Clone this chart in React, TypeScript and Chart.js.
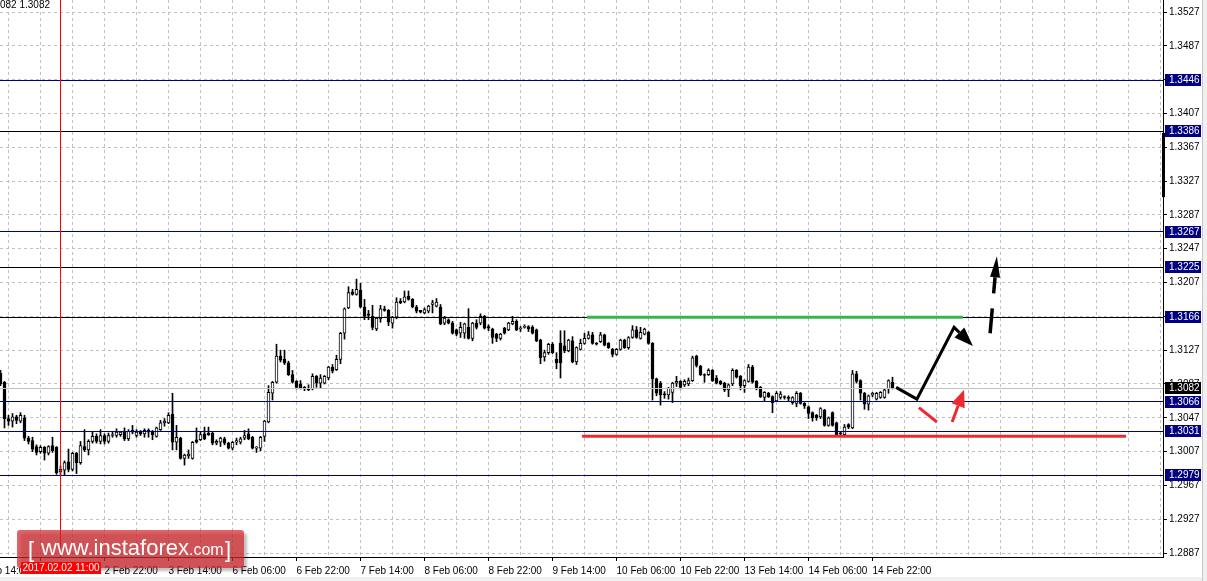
import React, { useEffect, useRef } from "react";
import { Chart, registerables } from "chart.js";

Chart.register(...registerables);

const FONT = "'Liberation Sans', Arial, sans-serif";

// ---------- hourly candles (GBP/USD H1), index 0 = 1 Feb 20:00 ----------
const opens = [
  1.3100,1.3089,1.3046,1.3043,1.3048,1.3043,1.3047,1.3023,1.3020,1.3013,
  1.3007,1.3012,1.3005,1.3014,1.3012,1.2983,1.2985,1.2995,1.2986,1.3005,
  1.2994,1.3013,1.3009,1.3019,1.3025,1.3019,1.3026,1.3019,1.3026,1.3026,
  1.3027,1.3030,1.3022,1.3032,1.3026,1.3030,1.3028,1.3032,1.3031,1.3025,
  1.3033,1.3041,1.3041,1.3051,1.3018,1.3023,1.2999,1.3002,1.2999,1.3021,
  1.3021,1.3028,1.3029,1.3029,1.3017,1.3018,1.3022,1.3017,1.3011,1.3018,
  1.3018,1.3023,1.3028,1.3024,1.3011,1.3011,1.3025,1.3042,1.3076,1.3089,
  1.3120,1.3116,1.3112,1.3098,1.3090,1.3087,1.3083,1.3082,1.3081,1.3096,
  1.3088,1.3088,1.3094,1.3107,1.3104,1.3116,1.3147,1.3177,1.3196,1.3193,
  1.3198,1.3178,1.3170,1.3167,1.3152,1.3164,1.3176,1.3174,1.3159,1.3166,
  1.3185,1.3184,1.3191,1.3187,1.3178,1.3174,1.3171,1.3173,1.3181,1.3179,
  1.3178,1.3159,1.3163,1.3159,1.3151,1.3147,1.3147,1.3154,1.3141,1.3159,
  1.3159,1.3167,1.3155,1.3152,1.3146,1.3141,1.3153,1.3151,1.3158,1.3161,
  1.3152,1.3154,1.3155,1.3154,1.3151,1.3139,1.3119,1.3124,1.3134,1.3116,
  1.3135,1.3132,1.3126,1.3138,1.3113,1.3128,1.3135,1.3141,1.3145,1.3135,
  1.3137,1.3145,1.3135,1.3128,1.3122,1.3128,1.3139,1.3130,1.3142,1.3151,
  1.3141,1.3146,1.3148,1.3135,1.3093,1.3088,1.3075,1.3074,1.3077,1.3088,
  1.3090,1.3086,1.3087,1.3091,1.3120,1.3108,1.3098,1.3098,1.3103,1.3094,
  1.3090,1.3088,1.3080,1.3087,1.3103,1.3096,1.3085,1.3090,1.3107,1.3090,
  1.3083,1.3071,1.3076,1.3072,1.3067,1.3071,1.3072,1.3071,1.3065,1.3064,
  1.3076,1.3064,1.3060,1.3053,1.3050,1.3048,1.3056,1.3038,1.3053,1.3041,
  1.3029,1.3027,1.3039,1.3035,1.3099,1.3091,1.3076,1.3063,1.3074,1.3069,
  1.3071,1.3071,1.3081,1.3089,
];
const highs = [
  1.3103,1.3090,1.3050,1.3052,1.3050,1.3053,1.3050,1.3025,1.3024,1.3015,
  1.3014,1.3013,1.3014,1.3024,1.3013,1.2990,1.2996,1.3010,1.3006,1.3006,
  1.3019,1.3033,1.3021,1.3030,1.3028,1.3033,1.3028,1.3029,1.3030,1.3034,
  1.3031,1.3035,1.3033,1.3038,1.3033,1.3032,1.3034,1.3034,1.3032,1.3036,
  1.3044,1.3046,1.3053,1.3076,1.3038,1.3024,1.3004,1.3009,1.3019,1.3035,
  1.3030,1.3036,1.3036,1.3030,1.3021,1.3024,1.3024,1.3018,1.3019,1.3023,
  1.3024,1.3032,1.3034,1.3025,1.3013,1.3025,1.3044,1.3085,1.3090,1.3134,
  1.3127,1.3127,1.3114,1.3103,1.3091,1.3091,1.3084,1.3086,1.3099,1.3097,
  1.3098,1.3097,1.3108,1.3110,1.3121,1.3148,1.3177,1.3202,1.3199,1.3211,
  1.3206,1.3187,1.3174,1.3180,1.3166,1.3180,1.3179,1.3175,1.3167,1.3189,
  1.3188,1.3197,1.3197,1.3188,1.3180,1.3174,1.3177,1.3180,1.3186,1.3188,
  1.3181,1.3167,1.3164,1.3161,1.3152,1.3160,1.3159,1.3176,1.3160,1.3163,
  1.3170,1.3168,1.3157,1.3153,1.3147,1.3147,1.3154,1.3160,1.3167,1.3163,
  1.3155,1.3157,1.3156,1.3156,1.3152,1.3140,1.3127,1.3135,1.3136,1.3124,
  1.3150,1.3150,1.3140,1.3143,1.3131,1.3140,1.3147,1.3149,1.3148,1.3136,
  1.3148,1.3146,1.3136,1.3129,1.3129,1.3140,1.3140,1.3143,1.3156,1.3155,
  1.3154,1.3153,1.3149,1.3136,1.3094,1.3090,1.3078,1.3083,1.3089,1.3096,
  1.3091,1.3092,1.3094,1.3120,1.3121,1.3109,1.3099,1.3105,1.3104,1.3097,
  1.3091,1.3089,1.3087,1.3105,1.3104,1.3097,1.3092,1.3110,1.3109,1.3091,
  1.3084,1.3078,1.3077,1.3073,1.3078,1.3078,1.3073,1.3073,1.3072,1.3078,
  1.3077,1.3065,1.3061,1.3054,1.3051,1.3059,1.3057,1.3048,1.3054,1.3042,
  1.3031,1.3039,1.3040,1.3103,1.3102,1.3092,1.3077,1.3074,1.3077,1.3077,
  1.3078,1.3081,1.3092,1.3095,
];
const lows = [
  1.3085,1.3035,1.3038,1.3036,1.3040,1.3041,1.3020,1.3016,1.3007,1.3003,
  1.3005,1.2997,1.3003,1.3006,1.2980,1.2979,1.2979,1.2983,1.2984,1.2981,
  1.2992,1.3007,1.3003,1.3017,1.3017,1.3016,1.3016,1.3017,1.3024,1.3024,
  1.3025,1.3020,1.3020,1.3028,1.3024,1.3026,1.3024,1.3024,1.3021,1.3024,
  1.3032,1.3037,1.3040,1.3009,1.3009,1.2998,1.2991,1.2999,1.2998,1.3017,
  1.3020,1.3021,1.3026,1.3015,1.3015,1.3013,1.3015,1.3010,1.3009,1.3015,
  1.3016,1.3021,1.3021,1.3010,1.3006,1.3008,1.3019,1.3041,1.3068,1.3088,
  1.3113,1.3110,1.3097,1.3088,1.3081,1.3081,1.3079,1.3079,1.3080,1.3083,
  1.3082,1.3087,1.3092,1.3100,1.3103,1.3111,1.3140,1.3176,1.3192,1.3192,
  1.3177,1.3163,1.3163,1.3151,1.3150,1.3160,1.3173,1.3156,1.3153,1.3164,
  1.3182,1.3183,1.3186,1.3177,1.3171,1.3171,1.3170,1.3171,1.3171,1.3178,
  1.3157,1.3157,1.3158,1.3146,1.3144,1.3142,1.3141,1.3140,1.3138,1.3152,
  1.3157,1.3152,1.3150,1.3135,1.3137,1.3139,1.3146,1.3150,1.3157,1.3150,
  1.3149,1.3153,1.3149,1.3146,1.3137,1.3111,1.3114,1.3122,1.3123,1.3105,
  1.3094,1.3124,1.3125,1.3112,1.3110,1.3127,1.3134,1.3140,1.3134,1.3133,
  1.3136,1.3132,1.3129,1.3119,1.3121,1.3127,1.3129,1.3128,1.3141,1.3141,
  1.3140,1.3145,1.3134,1.3068,1.3073,1.3062,1.3070,1.3069,1.3065,1.3084,
  1.3081,1.3084,1.3085,1.3090,1.3107,1.3097,1.3089,1.3097,1.3090,1.3087,
  1.3086,1.3078,1.3072,1.3085,1.3094,1.3080,1.3077,1.3089,1.3088,1.3080,
  1.3071,1.3067,1.3071,1.3053,1.3066,1.3069,1.3069,1.3066,1.3063,1.3060,
  1.3063,1.3058,1.3046,1.3043,1.3044,1.3046,1.3037,1.3037,1.3037,1.3026,
  1.3026,1.3026,1.3034,1.3034,1.3088,1.3068,1.3057,1.3056,1.3072,1.3068,
  1.3070,1.3070,1.3076,1.3081,
];
const closes = [
  1.3087,1.3046,1.3043,1.3048,1.3044,1.3050,1.3023,1.3019,1.3010,1.3006,
  1.3012,1.3005,1.3013,1.3008,1.2982,1.2986,1.2994,1.2986,1.3005,1.2994,
  1.3014,1.3009,1.3019,1.3025,1.3019,1.3026,1.3019,1.3026,1.3027,1.3030,
  1.3030,1.3022,1.3031,1.3030,1.3030,1.3028,1.3032,1.3030,1.3027,1.3035,
  1.3041,1.3043,1.3050,1.3018,1.3024,1.2999,1.3003,1.3004,1.3018,1.3018,
  1.3027,1.3022,1.3027,1.3017,1.3019,1.3023,1.3017,1.3011,1.3018,1.3020,
  1.3022,1.3026,1.3022,1.3011,1.3012,1.3024,1.3043,1.3077,1.3089,1.3120,
  1.3115,1.3112,1.3098,1.3089,1.3083,1.3082,1.3081,1.3080,1.3096,1.3088,
  1.3094,1.3096,1.3107,1.3102,1.3116,1.3147,1.3176,1.3195,1.3193,1.3199,
  1.3178,1.3167,1.3168,1.3154,1.3165,1.3176,1.3174,1.3160,1.3166,1.3184,
  1.3183,1.3190,1.3187,1.3178,1.3173,1.3172,1.3175,1.3179,1.3183,1.3184,
  1.3158,1.3165,1.3159,1.3147,1.3146,1.3154,1.3158,1.3141,1.3159,1.3154,
  1.3167,1.3153,1.3153,1.3142,1.3141,1.3146,1.3147,1.3159,1.3161,1.3151,
  1.3153,1.3155,1.3152,1.3147,1.3138,1.3118,1.3124,1.3134,1.3124,1.3112,
  1.3112,1.3126,1.3139,1.3113,1.3130,1.3135,1.3141,1.3145,1.3135,1.3134,
  1.3145,1.3133,1.3130,1.3122,1.3128,1.3139,1.3130,1.3142,1.3151,1.3142,
  1.3148,1.3152,1.3135,1.3093,1.3076,1.3074,1.3074,1.3082,1.3088,1.3090,
  1.3083,1.3090,1.3091,1.3118,1.3109,1.3098,1.3097,1.3103,1.3091,1.3088,
  1.3087,1.3080,1.3086,1.3103,1.3095,1.3085,1.3091,1.3107,1.3089,1.3082,
  1.3072,1.3077,1.3072,1.3065,1.3076,1.3075,1.3071,1.3070,1.3071,1.3076,
  1.3064,1.3061,1.3052,1.3047,1.3047,1.3058,1.3038,1.3047,1.3038,1.3027,
  1.3028,1.3036,1.3036,1.3099,1.3090,1.3076,1.3063,1.3073,1.3076,1.3076,
  1.3077,1.3080,1.3091,1.3082,
];

// ---------- axes ----------
const xTickLabels = [
  "1 Feb 14:00", "2 Feb 06:00", "2 Feb 22:00", "3 Feb 14:00", "6 Feb 06:00",
  "6 Feb 22:00", "7 Feb 14:00", "8 Feb 06:00", "8 Feb 22:00", "9 Feb 14:00",
  "10 Feb 06:00", "10 Feb 22:00", "13 Feb 14:00", "14 Feb 06:00", "14 Feb 22:00",
];
const firstLabelIndex = -6; // candle slot of "1 Feb 14:00"
const labelEvery = 16;
const gridEvery = 8;
const yTickValues = [
  1.2887, 1.2927, 1.2967, 1.3007, 1.3047, 1.3087, 1.3127, 1.3167, 1.3207,
  1.3247, 1.3287, 1.3327, 1.3367, 1.3407, 1.3447, 1.3487, 1.3527,
];

// ---------- levels & drawings (candle index, price) ----------
const navyLevels = [1.3446, 1.3267, 1.3066, 1.3031, 1.2979];
const blackLevels = [1.3386, 1.3225, 1.3166];
const bidPrice = 1.3082;
const rangeBar = [1.3308, 1.3384];
const markerIndex = 15;
const markerLabel = "2017.02.02 11:00";
const headerText = "082 1.3082";
const resistance = [146.6, 240.6, 1.3166];
const support = [145.4, 281.4, 1.3025];
const trendPath = [[223.9, 1.3083], [229.1, 1.3069], [238.4, 1.3154], [243.1, 1.3132]];
const breakoutArrow = [[247.4, 1.3147], [249.1, 1.3238]];
const redDash = [[229.6, 1.3059], [234.1, 1.3042]];
const redArrow = [[237.9, 1.3042], [240.9, 1.3080]];

const X_MIN = -0.125;
const X_MAX = 290.625;
const Y_MIN = 1.28823;
const Y_MAX = 1.35412;

function labelAt(v: number): string {
  const k = (v - firstLabelIndex) / labelEvery;
  if (Number.isInteger(k) && k >= 0 && k < xTickLabels.length) return xTickLabels[k];
  return "";
}

function hline(ctx: CanvasRenderingContext2D, a: any, y: number, color: string) {
  const yy = Math.floor(y) + 0.5;
  ctx.strokeStyle = color;
  ctx.lineWidth = 1;
  ctx.setLineDash([]);
  ctx.beginPath();
  ctx.moveTo(a.left, yy);
  ctx.lineTo(a.right, yy);
  ctx.stroke();
}

function head(ctx: CanvasRenderingContext2D, x1: number, y1: number, x2: number, y2: number, len: number, half: number) {
  const ang = Math.atan2(y2 - y1, x2 - x1);
  const bx = x2 - len * Math.cos(ang);
  const by = y2 - len * Math.sin(ang);
  const nx = -Math.sin(ang);
  const ny = Math.cos(ang);
  ctx.beginPath();
  ctx.moveTo(x2, y2);
  ctx.lineTo(bx + nx * half, by + ny * half);
  ctx.lineTo(bx - nx * half, by - ny * half);
  ctx.closePath();
  ctx.fill();
  return [bx, by];
}

const overlayPlugin = {
  id: "overlay",
  afterDatasetsDraw(chart: any) {
    const { ctx, chartArea: a, scales } = chart;
    const px = (i: number) => scales.x.getPixelForValue(i);
    const py = (p: number) => scales.y.getPixelForValue(p);
    ctx.save();
    ctx.beginPath();
    ctx.rect(a.left, a.top, a.right - a.left, a.bottom - a.top);
    ctx.clip();

    hline(ctx, a, py(bidPrice), "#c0c0c0");
    navyLevels.forEach((p) => hline(ctx, a, py(p), "#000080"));
    blackLevels.forEach((p) => hline(ctx, a, py(p), "#000000"));

    // vertical marker
    const mx = Math.round(px(markerIndex) - 0.5) + 0.5;
    ctx.strokeStyle = "#ff0000";
    ctx.lineWidth = 1;
    ctx.beginPath();
    ctx.moveTo(mx, a.top);
    ctx.lineTo(mx, a.bottom);
    ctx.stroke();

    // resistance / support
    ctx.lineWidth = 3;
    ctx.strokeStyle = "#35b64b";
    ctx.beginPath();
    ctx.moveTo(px(resistance[0]), py(resistance[2]));
    ctx.lineTo(px(resistance[1]), py(resistance[2]));
    ctx.stroke();
    ctx.strokeStyle = "#ee2a30";
    ctx.beginPath();
    ctx.moveTo(px(support[0]), py(support[2]));
    ctx.lineTo(px(support[1]), py(support[2]));
    ctx.stroke();

    // black forecast path
    ctx.strokeStyle = "#000";
    ctx.fillStyle = "#000";
    ctx.lineWidth = 3;
    ctx.lineJoin = "miter";
    const pts = trendPath.map(([i, p]) => [px(i), py(p)]);
    const n = pts.length;
    ctx.fillStyle = "#000";
    const [bx, by] = head(ctx, pts[n - 2][0], pts[n - 2][1], pts[n - 1][0], pts[n - 1][1], 19, 7);
    ctx.beginPath();
    ctx.moveTo(pts[0][0], pts[0][1]);
    for (let k = 1; k < n - 1; k++) ctx.lineTo(pts[k][0], pts[k][1]);
    ctx.lineTo(bx, by);
    ctx.stroke();

    // dashed breakout arrow
    const b0 = [px(breakoutArrow[0][0]), py(breakoutArrow[0][1])];
    const b1 = [px(breakoutArrow[1][0]), py(breakoutArrow[1][1])];
    const [hbx, hby] = head(ctx, b0[0], b0[1], b1[0], b1[1], 21, 5);
    ctx.lineWidth = 3.5;
    ctx.setLineDash([25, 15]);
    ctx.beginPath();
    ctx.moveTo(b0[0], b0[1]);
    ctx.lineTo(hbx, hby);
    ctx.stroke();
    ctx.setLineDash([]);

    // red pullback
    ctx.strokeStyle = "#ee2a30";
    ctx.fillStyle = "#ee2a30";
    ctx.lineWidth = 3;
    ctx.beginPath();
    ctx.moveTo(px(redDash[0][0]), py(redDash[0][1]));
    ctx.lineTo(px(redDash[1][0]), py(redDash[1][1]));
    ctx.stroke();
    const r0 = [px(redArrow[0][0]), py(redArrow[0][1])];
    const r1 = [px(redArrow[1][0]), py(redArrow[1][1])];
    const [rbx, rby] = head(ctx, r0[0], r0[1], r1[0], r1[1], 17, 7);
    ctx.beginPath();
    ctx.moveTo(r0[0], r0[1]);
    ctx.lineTo(rbx, rby);
    ctx.stroke();

    ctx.restore();
  },
  afterDraw(chart: any) {
    const { ctx, chartArea: a, scales, width, height } = chart;
    const px = (i: number) => scales.x.getPixelForValue(i);
    const py = (p: number) => scales.y.getPixelForValue(p);
    ctx.save();

    // right window edge & bottom strip
    ctx.fillStyle = "#f0f0f0";
    ctx.fillRect(1203, 0, width - 1203, height);
    ctx.fillRect(0, 577, width, height - 577);
    ctx.strokeStyle = "#c8c8c8";
    ctx.lineWidth = 1;
    ctx.beginPath();
    ctx.moveTo(1202.5, 0);
    ctx.lineTo(1202.5, height);
    ctx.stroke();

    // range bar on price axis
    ctx.fillStyle = "#000";
    const t = py(rangeBar[1]);
    const b = py(rangeBar[0]);
    ctx.fillRect(a.right - 1, t, 3, b - t);

    // price boxes
    ctx.font = `10px ${FONT}`;
    ctx.textBaseline = "middle";
    ctx.textAlign = "left";
    const box = (p: number, bg: string) => {
      const y = py(p);
      ctx.fillStyle = bg;
      ctx.fillRect(a.right + 2, Math.round(y) - 6, 36, 12);
      ctx.fillStyle = "#fff";
      ctx.fillText(p.toFixed(4), a.right + 6, Math.round(y) + 0.5);
    };
    navyLevels.forEach((p) => box(p, "#000080"));
    blackLevels.forEach((p) => box(p, "#000080"));
    box(bidPrice, "#000000");

    // header text
    ctx.fillStyle = "#000";
    ctx.fillText(headerText, 0, 5.5);

    // watermark
    ctx.save();
    ctx.shadowColor = "rgba(0,0,0,0.35)";
    ctx.shadowOffsetX = 3;
    ctx.shadowOffsetY = 3;
    ctx.shadowBlur = 3;
    ctx.fillStyle = "rgba(213,40,47,0.72)";
    ctx.beginPath();
    (ctx as any).roundRect(17, 530, 227, 38, 3);
    ctx.fill();
    ctx.restore();
    ctx.fillStyle = "#fff";
    ctx.textBaseline = "alphabetic";
    ctx.font = `22px ${FONT}`;
    ctx.fillText("[", 28, 557);
    ctx.fillText("www.instaforex", 41, 555, 150);
    const w = Math.min(ctx.measureText("www.instaforex").width, 150);
    ctx.font = `16px ${FONT}`;
    ctx.fillText(".com", 41 + w, 555);
    ctx.font = `22px ${FONT}`;
    ctx.fillText("]", 225, 557);

    // date marker label
    const mx = px(markerIndex);
    ctx.fillStyle = "#ff0000";
    ctx.fillRect(Math.round(mx) - 40, 562, 80, 12);
    ctx.fillStyle = "#fff";
    ctx.font = `10px ${FONT}`;
    ctx.textAlign = "center";
    ctx.textBaseline = "middle";
    ctx.fillText(markerLabel, Math.round(mx), 568);

    ctx.restore();
  },
};

export default function App() {
  const ref = useRef<HTMLCanvasElement | null>(null);

  useEffect(() => {
    if (!ref.current) return;
    const idx = opens.map((_, i) => i);
    const chart = new Chart(ref.current, {
      type: "bar",
      data: {
        datasets: [
          {
            label: "wick",
            data: idx.map((i) => ({ x: i, y: [lows[i], highs[i]] })) as any,
            backgroundColor: "#000",
            borderWidth: 0,
            barThickness: 1,
            grouped: false,
            order: 2,
          } as any,
          {
            label: "body",
            data: idx.map((i) => ({ x: i, y: [opens[i], closes[i]] })) as any,
            backgroundColor: idx.map((i) => (closes[i] >= opens[i] ? "#ffffff" : "#000000")),
            borderColor: "#000",
            borderWidth: 1,
            borderSkipped: false,
            barThickness: 3,
            minBarLength: 1,
            grouped: false,
            order: 1,
          } as any,
        ],
      },
      options: {
        responsive: false,
        animation: false,
        devicePixelRatio: 1,
        events: [],
        layout: { padding: 0, autoPadding: false } as any,
        plugins: { legend: { display: false }, tooltip: { enabled: false } },
        scales: {
          x: {
            type: "linear",
            min: X_MIN,
            max: X_MAX,
            offset: false,
            afterBuildTicks: (s: any) => {
              const ticks = [];
              for (let v = firstLabelIndex; v <= X_MAX; v += gridEvery) ticks.push({ value: v });
              s.ticks = ticks;
            },
            afterFit: (s: any) => {
              s.height = 24;
              s.paddingLeft = 0;
              s.paddingRight = 0;
            },
            ticks: {
              autoSkip: false,
              maxRotation: 0,
              minRotation: 0,
              align: "start",
              padding: 4,
              color: "#000",
              font: { family: FONT, size: 10 },
              callback: (v: any) => labelAt(Number(v)),
            },
            grid: {
              offset: false,
              color: "#c0c0c0",
              lineWidth: 1,
              drawTicks: true,
              tickLength: 4,
              tickColor: (c: any) => (c.tick && labelAt(c.tick.value) ? "#000" : "rgba(0,0,0,0)"),
            },
            border: { display: true, color: "#000", width: 1, dash: [3, 3] },
          } as any,
          y: {
            type: "linear",
            position: "right",
            min: Y_MIN,
            max: Y_MAX,
            afterBuildTicks: (s: any) => {
              s.ticks = yTickValues.map((v) => ({ value: v }));
            },
            afterFit: (s: any) => {
              s.width = 44;
              s.paddingTop = 0;
              s.paddingBottom = 0;
            },
            ticks: {
              padding: 2,
              color: "#000",
              font: { family: FONT, size: 10 },
              callback: (v: any) => Number(v).toFixed(4),
            },
            grid: {
              color: "#c0c0c0",
              lineWidth: 1,
              drawTicks: true,
              tickLength: 4,
              tickColor: "#000",
            },
            border: { display: true, color: "#000", width: 1, dash: [3, 3] },
          } as any,
        },
      },
      plugins: [overlayPlugin],
    });
    return () => chart.destroy();
  }, []);

  return (
    <div style={{ position: "fixed", left: 0, top: 0, width: 1207, height: 581, background: "#fff" }}>
      <canvas ref={ref} width={1207} height={581} />
    </div>
  );
}
